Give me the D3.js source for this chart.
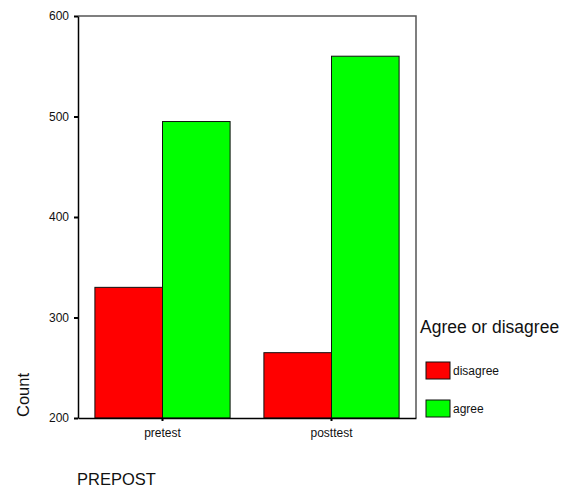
<!DOCTYPE html>
<html>
<head>
<meta charset="utf-8">
<script src="https://cdn.jsdelivr.net/npm/d3@7"></script>
<style>
  body { margin: 0; background: #fff; }
  text { font-family: Arial, "Liberation Sans", sans-serif; fill: #111; }
</style>
</head>
<body>
<svg id="chart"></svg>
<script>
// Chart values
var categories = ["pretest", "posttest"];
var groups = ["disagree", "agree"];
var disagreeCounts = [330, 265];
var agreeCounts = [495, 560];
var yTicks = [200, 300, 400, 500, 600];
var colors = ["#ff0000", "#00ff00"];

var width = 569, height = 489;
var svg = d3.select("#chart").attr("width", width).attr("height", height);

// plot area (note: "top" clashes with window.top)
var plotLeft = 78, plotRight = 416, plotTop = 16, plotBottom = 418;

var x = d3.scaleBand().domain(categories).range([plotLeft, plotRight]).padding(0);
var x1 = d3.scaleBand().domain(groups).range([0, x.bandwidth() * 0.8]);
var y = d3.scaleLinear().domain([200, 600]).range([plotBottom, plotTop]);

var rows = categories.map(function(c, i) {
  return {cat: c, values: [disagreeCounts[i], agreeCounts[i]]};
});

// frame (top + right)
svg.append("path")
  .attr("d", "M" + plotLeft + "," + plotTop + "H" + plotRight + "V" + plotBottom)
  .attr("fill", "none")
  .attr("stroke", "#555")
  .attr("stroke-width", 1.5);

// bars
rows.forEach(function(r) {
  var x0 = x(r.cat) + x.bandwidth() * 0.1;
  r.values.forEach(function(v, j) {
    svg.append("rect")
      .attr("x", x0 + x1(groups[j]))
      .attr("y", y(v))
      .attr("width", x1.bandwidth())
      .attr("height", y(200) - y(v))
      .attr("fill", colors[j])
      .attr("stroke", "#111")
      .attr("stroke-width", 1);
  });
});

// y axis
var yAxis = svg.append("g")
  .attr("transform", "translate(" + plotLeft + ",0)")
  .call(d3.axisLeft(y).tickValues(yTicks).tickSize(4).tickPadding(5).tickSizeOuter(0));
yAxis.select(".domain").attr("stroke", "#000").attr("stroke-width", 1.5);
yAxis.selectAll(".tick line").attr("stroke", "#000").attr("stroke-width", 2);
yAxis.selectAll("text").style("font-size", "12px").attr("fill", "#111");

// x axis
var xAxis = svg.append("g")
  .attr("transform", "translate(0," + plotBottom + ")")
  .call(d3.axisBottom(x).tickSize(3).tickPadding(7).tickSizeOuter(0));
xAxis.select(".domain").attr("stroke", "#000").attr("stroke-width", 1.5);
xAxis.selectAll(".tick line").attr("stroke", "#000").attr("stroke-width", 2);
xAxis.selectAll("text").style("font-size", "12px").attr("fill", "#111");

// axis titles
svg.append("text")
  .attr("transform", "translate(29,395) rotate(-90)")
  .attr("text-anchor", "middle")
  .style("font-size", "16.5px")
  .text("Count");

svg.append("text")
  .attr("x", 77).attr("y", 485)
  .style("font-size", "16.5px")
  .text("PREPOST");

// legend
svg.append("text")
  .attr("x", 420).attr("y", 333)
  .style("font-size", "17.5px")
  .text("Agree or disagree");

groups.forEach(function(g, j) {
  var ly = 362 + j * 38;
  svg.append("rect")
    .attr("x", 426).attr("y", ly)
    .attr("width", 24).attr("height", 17)
    .attr("fill", colors[j])
    .attr("stroke", "#111");
  svg.append("text")
    .attr("x", 453).attr("y", ly + 13)
    .style("font-size", "12px")
    .text(g);
});
</script>
</body>
</html>
